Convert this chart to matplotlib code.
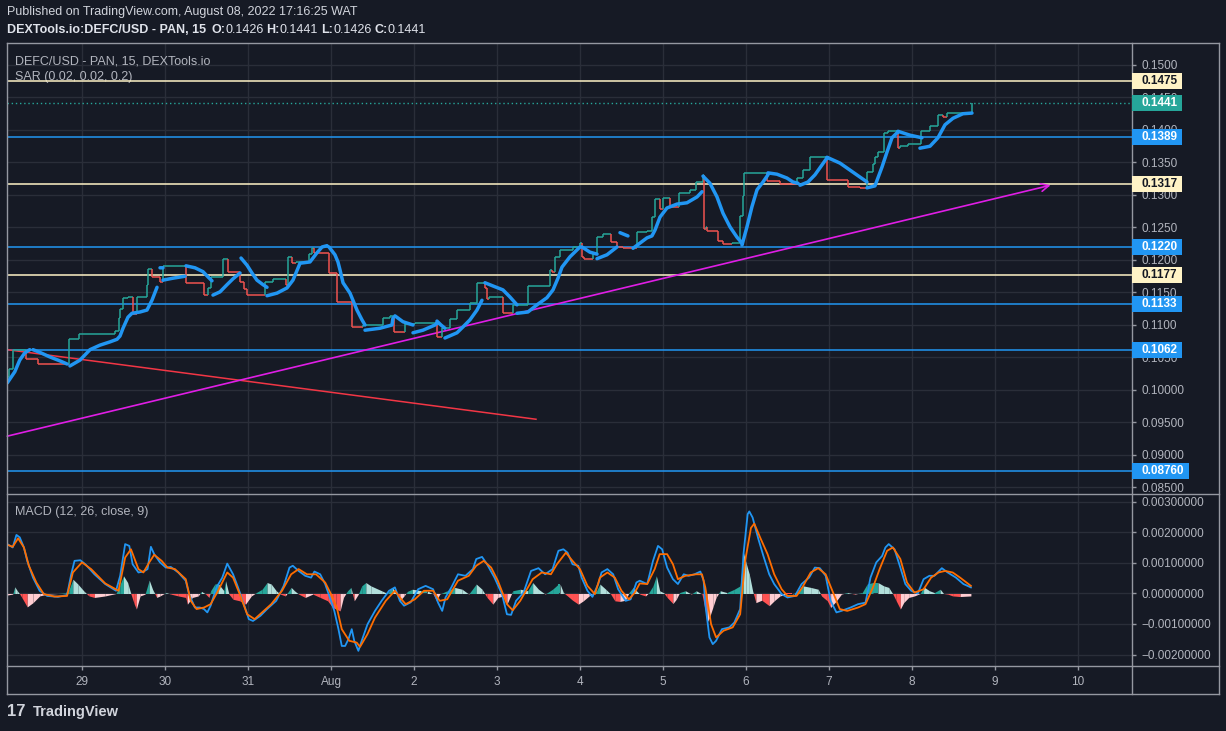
import matplotlib
matplotlib.use("Agg")
import matplotlib.pyplot as plt
from matplotlib.collections import LineCollection
from matplotlib.lines import Line2D
from matplotlib.patches import Rectangle
import numpy as np

plt.rcParams['font.family'] = ['Liberation Sans', 'DejaVu Sans']

# ---------------- data (time = days since Jul 29 00:00) ----------------
day_ticks = list(range(13))
day_labels = ['29', '30', '31', 'Aug', '2', '3', '4', '5', '6', '7', '8', '9', '10']

price_ticks = [0.085, 0.090, 0.095, 0.100, 0.105, 0.110, 0.115, 0.120, 0.125,
               0.130, 0.135, 0.140, 0.145, 0.150]
price_tick_labels = ['0.08500', '0.09000', '0.09500', '0.10000', '0.1050', '0.1100',
                     '0.1150', '0.1200', '0.1250', '0.1300', '0.1350', '0.1400',
                     '0.1450', '0.1500']
macd_ticks = [-0.002, -0.001, 0.0, 0.001, 0.002, 0.003]
macd_tick_labels = ['\u22120.00200000', '\u22120.00100000', '0.00000000',
                    '0.00100000', '0.00200000', '0.00300000']

# close price, step changes
price_t = [-0.90, -0.88, -0.83, -0.67, -0.53, -0.16, -0.04, 0.40, 0.44, 0.46, 0.49, 0.55,
           0.61, 0.66, 0.78, 0.80, 0.84, 0.94, 0.98, 1.25, 1.47, 1.52, 1.55, 1.70, 1.76,
           1.90, 1.95, 1.99, 2.20, 2.30, 2.46, 2.48, 2.53, 2.58, 2.73, 2.77, 2.80, 2.98,
           3.07, 3.25, 3.39, 3.63, 3.71, 3.76, 3.89, 4.01, 4.28, 4.34, 4.43, 4.52, 4.67,
           4.76, 4.86, 4.88, 4.90, 5.07, 5.19, 5.37, 5.64, 5.66, 5.70, 5.76, 5.92, 6.00,
           6.02, 6.05, 6.16, 6.20, 6.28, 6.37, 6.45, 6.52, 6.69, 6.81, 6.87, 6.90, 6.96,
           7.00, 7.08, 7.19, 7.33, 7.40, 7.48, 7.49, 7.52, 7.53, 7.66, 7.72, 7.83, 7.93,
           7.96, 7.98, 8.25, 8.41, 8.61, 8.69, 8.77, 8.98, 9.23, 9.37, 9.46, 9.53, 9.55,
           9.59, 9.66, 9.71, 9.83, 9.86, 9.95, 10.11, 10.22, 10.31, 10.37, 10.42, 10.72]
price_v = [0.1020, 0.1032, 0.1062, 0.1048, 0.1040, 0.1078, 0.1086, 0.1090, 0.1110, 0.1125,
           0.1142, 0.1143, 0.1117, 0.1143, 0.1162, 0.1186, 0.1174, 0.1166, 0.1191, 0.1165,
           0.1146, 0.1157, 0.1174, 0.1202, 0.1182, 0.1166, 0.1155, 0.1146, 0.1166, 0.1171,
           0.1162, 0.1205, 0.1195, 0.1197, 0.1209, 0.1218, 0.1211, 0.1180, 0.1135, 0.1097,
           0.1100, 0.1111, 0.1114, 0.1089, 0.1102, 0.1103, 0.1082, 0.1095, 0.1109, 0.1123,
           0.1134, 0.1165, 0.1157, 0.1140, 0.1143, 0.1118, 0.1131, 0.1160, 0.1185, 0.1182,
           0.1205, 0.1215, 0.1220, 0.1226, 0.1205, 0.1202, 0.1211, 0.1235, 0.1240, 0.1228,
           0.1220, 0.1218, 0.1243, 0.1245, 0.1266, 0.1294, 0.1278, 0.1295, 0.1282, 0.1303,
           0.1308, 0.1320, 0.1331, 0.1248, 0.1251, 0.1245, 0.1229, 0.1225, 0.1226, 0.1268,
           0.1298, 0.1334, 0.1322, 0.1317, 0.1326, 0.1338, 0.1358, 0.1323, 0.1312, 0.1311,
           0.1335, 0.1348, 0.1358, 0.1366, 0.1395, 0.1398, 0.1372, 0.1375, 0.1378, 0.1398,
           0.1406, 0.1423, 0.1420, 0.1426, 0.1441]

nan = float('nan')
# parabolic SAR, segments separated by nan
sar_t = [-0.90, -0.81, -0.75, -0.69, -0.63, nan,
         -0.59, -0.51, -0.39, -0.27, -0.18, nan,
         -0.145, -0.024, 0.096, 0.217, 0.337, 0.422, 0.458, 0.494, 0.554, 0.602, 0.699,
         0.783, 0.843, 0.904, nan,
         0.940, 0.976, nan,
         0.976, 1.096, 1.241, nan,
         1.253, 1.361, 1.458, 1.518, 1.566, nan,
         1.578, 1.663, 1.747, 1.819, 1.904, nan,
         1.916, 1.988, 2.048, 2.108, 2.181, 2.229, nan,
         2.229, 2.349, 2.470, 2.542, 2.627, 2.747, 2.831, 2.892, 2.952, nan,
         2.976, 3.048, 3.084, 3.108, 3.145, 3.229, 3.265, 3.313, 3.373, 3.410, nan,
         3.410, 3.590, 3.735, 3.747, nan,
         3.771, 3.867, 3.988, nan,
         3.988, 4.108, 4.253, 4.277, nan,
         4.277, 4.325, 4.373, nan,
         4.373, 4.518, 4.590, 4.675, 4.759, 4.819, nan,
         4.855, 4.952, 5.072, 5.157, 5.241, nan,
         5.241, 5.373, 5.482, 5.602, 5.675, 5.735, 5.783, 5.880, 6.000, nan,
         6.024, 6.120, 6.205, nan,
         6.205, 6.325, 6.446, nan,
         6.482, 6.578, nan,
         6.639, 6.723, 6.807, 6.867, 6.904, 6.964, 7.048, 7.169, 7.289, 7.410, 7.470, nan,
         7.482, 7.566, 7.651, 7.723, 7.807, 7.892, 7.952, nan,
         7.952, 8.012, 8.072, 8.133, 8.205, 8.265, nan,
         8.265, 8.373, 8.494, 8.566, 8.627, nan,
         8.651, 8.747, 8.831, 8.976, nan,
         8.976, 9.133, 9.289, 9.458, nan,
         9.458, 9.554, 9.639, 9.699, 9.759, 9.831, nan,
         9.831, 9.976, 10.120, nan,
         10.096, 10.217, 10.313, 10.398, 10.494, 10.614, 10.723]
sar_v = [0.1011, 0.1028, 0.1046, 0.1057, 0.1062, nan,
         0.1062, 0.1058, 0.1051, 0.1045, 0.1040, nan,
         0.1037, 0.1046, 0.1062, 0.1069, 0.1074, 0.1078, 0.1083, 0.1095, 0.1112, 0.1118, 0.1120,
         0.1123, 0.1138, 0.1158, nan,
         0.1188, 0.1188, nan,
         0.1169, 0.1172, 0.1175, nan,
         0.1191, 0.1188, 0.1182, 0.1174, 0.1168, nan,
         0.1146, 0.1151, 0.1162, 0.1171, 0.1180, nan,
         0.1203, 0.1192, 0.1180, 0.1169, 0.1162, 0.1158, nan,
         0.1145, 0.1149, 0.1157, 0.1169, 0.1195, 0.1197, 0.1211, 0.1220, 0.1222, nan,
         0.1220, 0.1208, 0.1197, 0.1185, 0.1165, 0.1149, 0.1138, 0.1123, 0.1108, 0.1100, nan,
         0.1092, 0.1095, 0.1100, 0.1111, nan,
         0.1114, 0.1105, 0.1100, nan,
         0.1088, 0.1092, 0.1100, 0.1103, nan,
         0.1106, 0.1100, 0.1095, nan,
         0.1080, 0.1088, 0.1097, 0.1108, 0.1123, 0.1138, nan,
         0.1165, 0.1160, 0.1154, 0.1143, 0.1131, nan,
         0.1118, 0.1120, 0.1131, 0.1142, 0.1154, 0.1172, 0.1189, 0.1205, 0.1220, nan,
         0.1220, 0.1212, 0.1209, nan,
         0.1202, 0.1208, 0.1220, nan,
         0.1242, 0.1237, nan,
         0.1218, 0.1226, 0.1234, 0.1237, 0.1246, 0.1266, 0.1280, 0.1286, 0.1288, 0.1297, 0.1305, nan,
         0.1329, 0.1318, 0.1297, 0.1272, 0.1251, 0.1235, 0.1226, nan,
         0.1223, 0.1251, 0.1282, 0.1308, 0.1320, 0.1331, nan,
         0.1334, 0.1332, 0.1326, 0.1320, 0.1318, nan,
         0.1315, 0.1320, 0.1331, 0.1357, nan,
         0.1358, 0.1349, 0.1335, 0.1320, nan,
         0.1311, 0.1314, 0.1343, 0.1366, 0.1388, 0.1397, nan,
         0.1398, 0.1392, 0.1388, nan,
         0.1372, 0.1375, 0.1388, 0.1408, 0.1418, 0.1425, 0.1426]

# horizontal levels
cream_levels = [0.1475, 0.1317, 0.1177]
blue_levels = [0.1389, 0.1220, 0.1133, 0.1062, 0.0876]
blue_labels = ['0.1389', '0.1220', '0.1133', '0.1062', '0.08760']
cream_labels = ['0.1475', '0.1317', '0.1177']
last_price = 0.1441

# trend lines
trend_up_t = [-0.90, 11.67]
trend_up_v = [0.0929, 0.1315]
trend_dn_t = [-0.90, 5.47]
trend_dn_v = [0.1062, 0.0955]

# MACD (values in thousandths)
macd_t = [-0.90, -0.835, -0.79, -0.75, -0.70, -0.66, -0.59, -0.51, -0.42, -0.29, -0.18,
          -0.13, -0.09, -0.02, 0.04, 0.15, 0.28, 0.41, 0.46, 0.52, 0.57, 0.61, 0.68, 0.74,
          0.79, 0.83, 0.87, 0.94, 1.01, 1.07, 1.16, 1.25, 1.29, 1.36, 1.42, 1.47, 1.51,
          1.55, 1.62, 1.69, 1.75, 1.82, 1.88, 1.95, 2.01, 2.06, 2.15, 2.23, 2.34, 2.43,
          2.50, 2.54, 2.61, 2.69, 2.76, 2.80, 2.87, 2.93, 3.00, 3.04, 3.09, 3.13, 3.17,
          3.21, 3.25, 3.28, 3.33, 3.37, 3.44, 3.53, 3.61, 3.70, 3.77, 3.83, 3.88, 3.96,
          4.05, 4.14, 4.23, 4.29, 4.34, 4.38, 4.45, 4.53, 4.62, 4.71, 4.75, 4.82, 4.88,
          4.97, 5.06, 5.12, 5.17, 5.23, 5.32, 5.41, 5.50, 5.58, 5.67, 5.74,
          5.80, 5.85, 5.91, 5.98, 6.02, 6.09, 6.15, 6.22, 6.26, 6.33, 6.40, 6.46, 6.55,
          6.61, 6.68, 6.72, 6.81, 6.88, 6.94, 6.99, 7.05, 7.12, 7.18, 7.25, 7.31, 7.38,
          7.45, 7.49, 7.51, 7.56, 7.60, 7.64, 7.71, 7.80, 7.86, 7.93, 7.97, 8.02, 8.04,
          8.08, 8.15, 8.21, 8.28, 8.34, 8.43, 8.50, 8.59, 8.67, 8.76, 8.83, 8.89, 8.96,
          9.02, 9.09, 9.15, 9.26, 9.35, 9.44, 9.50, 9.57, 9.64, 9.68, 9.72, 9.79, 9.86,
          9.92, 9.99, 10.07, 10.14, 10.21, 10.27, 10.36, 10.43, 10.53, 10.62, 10.71]
macd_v = [1.62, 1.51, 1.92, 1.84, 1.51, 1.07, 0.52, 0.09, -0.08, -0.11, -0.05,
          0.63, 1.07, 1.09, 0.96, 0.63, 0.31, 0.09, 0.58, 1.62, 1.56, 0.96, 0.69, 0.72,
          0.80, 1.53, 1.29, 1.02, 0.85, 0.87, 0.69, 0.42, -0.02, -0.46, -0.46, -0.51, -0.62,
          -0.40, 0.20, 0.52, 0.98, 0.63, 0.20, -0.35, -0.84, -0.90, -0.73, -0.51, -0.24, 0.25,
          0.85, 0.91, 0.74, 0.58, 0.52, 0.72, 0.63, 0.31, -0.24, -0.57, -1.17, -1.72, -1.72,
          -1.50, -1.17, -1.55, -1.88, -1.55, -1.01, -0.57, -0.24, 0.09, 0.20, -0.24, -0.40, -0.29,
          0.14, 0.25, 0.14, -0.30, -0.57, -0.13, 0.20, 0.63, 0.58, 0.80, 1.13, 1.20, 0.96,
          0.52, -0.02, -0.68, -0.70, -0.24, 0.03, 0.74, 0.83, 0.63, 0.80, 1.40,
          1.45, 1.34, 0.96, 0.91, 0.52, 0.09, -0.11, 0.31, 0.69, 0.80, 0.63, 0.14, -0.24,
          -0.19, 0.36, 0.42, 0.31, 1.07, 1.56, 1.45, 0.85, 0.47, 0.31, 0.63, 0.58, 0.63,
          0.72, 0.42, -0.35, -1.44, -1.66, -1.55, -1.17, -1.11, -0.95, -0.51, 1.29, 2.60, 2.69,
          2.49, 1.78, 1.23, 0.63, 0.31, -0.02, -0.13, -0.08, 0.31, 0.52, 0.85, 0.83, 0.58,
          -0.24, -0.62, -0.57, -0.46, -0.35, -0.30, 0.52, 1.02, 1.23, 1.51, 1.62, 1.45, 0.85,
          0.31, 0.09, 0.00, 0.47, 0.58, 0.58, 0.83, 0.69, 0.52, 0.31, 0.20]

signal_t = [-0.90, -0.835, -0.77, -0.70, -0.64, -0.55, -0.46, -0.33, -0.18, -0.11, 0.00,
            0.11, 0.28, 0.44, 0.52, 0.59, 0.68, 0.74, 0.81, 0.87, 0.96, 1.03, 1.12, 1.25,
            1.31, 1.38, 1.47, 1.55, 1.64, 1.75, 1.82, 1.90, 1.99, 2.08, 2.17, 2.28, 2.41,
            2.52, 2.61, 2.71, 2.82, 2.93, 3.00, 3.07, 3.13, 3.22, 3.31, 3.35, 3.44, 3.53,
            3.66, 3.77, 3.83, 3.90, 4.01, 4.12, 4.23, 4.31, 4.40, 4.53, 4.66, 4.75, 4.84,
            4.93, 5.01, 5.12, 5.19, 5.28, 5.43, 5.54, 5.65, 5.72,
            5.83, 5.91, 6.00, 6.09, 6.18, 6.24, 6.33, 6.42, 6.50, 6.59, 6.66, 6.72, 6.81,
            6.90, 6.96, 7.05, 7.12, 7.18, 7.27, 7.40, 7.47, 7.51, 7.58, 7.64, 7.73, 7.84,
            7.93, 7.99, 8.06, 8.10, 8.17, 8.26, 8.34, 8.43, 8.50, 8.61, 8.69, 8.78, 8.87,
            8.96, 9.05, 9.13, 9.22, 9.35, 9.44, 9.53, 9.61, 9.70, 9.77, 9.86, 9.94, 10.03,
            10.14, 10.23, 10.32, 10.40, 10.49, 10.58, 10.71]
signal_v = [1.60, 1.53, 1.81, 1.51, 0.91, 0.36, -0.02, -0.10, -0.08, 0.69, 1.02,
            0.80, 0.33, 0.09, 1.18, 1.45, 0.80, 0.69, 1.02, 1.27, 1.07, 0.85, 0.80, 0.47,
            -0.24, -0.51, -0.46, -0.35, 0.09, 0.69, 0.52, -0.02, -0.68, -0.84, -0.62, -0.35, 0.09,
            0.63, 0.80, 0.63, 0.63, 0.36, -0.02, -0.46, -1.17, -1.55, -1.61, -1.75, -1.33, -0.79,
            -0.24, 0.09, -0.13, -0.35, -0.19, 0.09, 0.09, -0.24, -0.19, 0.42, 0.58, 0.91, 1.07,
            0.85, 0.42, -0.35, -0.55, -0.24, 0.47, 0.69, 0.63, 0.95,
            1.34, 1.07, 0.80, 0.25, -0.02, 0.52, 0.69, 0.52, 0.09, -0.19, 0.03, 0.33, 0.31,
            0.80, 1.29, 1.29, 0.96, 0.47, 0.58, 0.63, 0.63, 0.20, -1.01, -1.44, -1.22, -1.11,
            -0.68, 1.07, 2.15, 2.29, 1.84, 1.29, 0.63, 0.14, -0.08, -0.08, 0.25, 0.69, 0.83,
            0.63, 0.03, -0.51, -0.57, -0.46, -0.35, 0.20, 0.80, 1.40, 1.51, 1.13, 0.36, 0.03,
            0.14, 0.52, 0.69, 0.74, 0.69, 0.52, 0.25]

hist_t = [-0.90, -0.835, -0.81, -0.78, -0.75, -0.725, -0.66, -0.59, -0.51, -0.42, -0.29,
          -0.20, -0.155, -0.11, -0.05, 0.02, 0.06, 0.085, 0.15, 0.28, 0.41, 0.46, 0.50,
          0.55, 0.59, 0.63, 0.655, 0.70, 0.76, 0.81, 0.85, 0.90, 0.94, 1.01, 1.07, 1.16,
          1.25, 1.27, 1.33, 1.40, 1.44, 1.49, 1.53, 1.55, 1.60, 1.64, 1.71, 1.73, 1.77,
          1.82, 1.90, 1.97, 2.04, 2.10, 2.17, 2.23, 2.28, 2.34, 2.39, 2.45, 2.52, 2.56,
          2.61, 2.69, 2.78, 2.87, 2.96, 3.02, 3.06, 3.11, 3.15, 3.20, 3.24, 3.28, 3.33,
          3.37, 3.42, 3.48, 3.61, 3.68, 3.74, 3.79, 3.83, 3.88, 3.92, 3.98, 4.09, 4.16,
          4.23, 4.27, 4.31, 4.40, 4.49, 4.58, 4.66, 4.75, 4.82, 4.88, 4.95, 5.01, 5.08,
          5.12, 5.19, 5.28, 5.37, 5.43, 5.50, 5.58, 5.67, 5.74,
          5.76, 5.80, 5.85, 5.91, 5.98, 6.04, 6.11, 6.20, 6.24, 6.31, 6.37, 6.42, 6.48,
          6.55, 6.59, 6.64, 6.68, 6.72, 6.79, 6.83, 6.88, 6.92, 6.96, 7.01, 7.05, 7.12,
          7.16, 7.20, 7.27, 7.34, 7.40, 7.47, 7.51, 7.53, 7.56, 7.60, 7.64, 7.69, 7.77,
          7.86, 7.93, 7.97, 8.00, 8.04, 8.08, 8.12, 8.19, 8.28, 8.34, 8.41, 8.48, 8.56,
          8.63, 8.69, 8.78, 8.87, 8.91, 8.98, 9.02, 9.09, 9.15, 9.22, 9.31, 9.40, 9.46,
          9.53, 9.59, 9.66, 9.72, 9.77, 9.81, 9.86, 9.90, 9.96, 10.03, 10.10, 10.14, 10.21,
          10.27, 10.34, 10.38, 10.43, 10.49, 10.58, 10.71]
hist_v = [-0.05, -0.02, 0.22, 0.09, -0.02, -0.13, -0.44, -0.30, -0.08, -0.02, 0.00,
          0.02, 0.14, 0.47, 0.31, 0.09, -0.02, -0.08, -0.13, -0.08, 0.00, 0.31, 0.58,
          0.36, -0.02, -0.35, -0.51, -0.08, -0.02, 0.44, 0.14, -0.13, -0.08, 0.03, -0.02, -0.08,
          -0.13, -0.35, -0.13, -0.08, 0.07, -0.02, -0.13, 0.09, 0.31, 0.33, 0.09, 0.42, -0.02,
          -0.19, -0.24, -0.35, -0.08, 0.03, 0.14, 0.36, 0.31, 0.09, -0.02, -0.08, 0.20, 0.09,
          -0.02, -0.13, -0.02, -0.13, -0.24, -0.46, -0.51, -0.57, -0.13, 0.09, 0.20, -0.24, -0.02,
          0.25, 0.36, 0.25, 0.09, 0.00, 0.20, -0.02, -0.24, -0.08, 0.07, 0.14, 0.09, 0.09,
          -0.02, -0.24, -0.02, 0.09, 0.20, 0.14, -0.02, 0.31, 0.14, -0.13, -0.35, -0.13, -0.08,
          -0.35, 0.09, 0.14, 0.09, 0.36, 0.14, -0.02, 0.14, 0.31,
          0.31, 0.03, -0.08, -0.22, -0.35, -0.24, -0.08, 0.09, 0.31, 0.14, -0.02, -0.24, -0.26,
          -0.22, 0.03, 0.20, 0.09, -0.02, -0.08, 0.03, 0.25, 0.58, 0.09, 0.02, -0.13, -0.33,
          -0.19, 0.03, 0.09, -0.02, 0.09, -0.02, -0.57, -0.95, -0.79, -0.46, -0.13, 0.09, 0.03,
          0.14, 0.25, 1.34, 1.02, 0.63, 0.09, -0.30, -0.22, -0.40, -0.24, -0.08, -0.02, -0.02,
          0.09, 0.25, 0.20, 0.14, -0.08, -0.24, -0.46, -0.24, -0.02, 0.03, -0.02, 0.03, 0.31,
          0.36, 0.36, 0.25, 0.20, -0.02, -0.24, -0.51, -0.30, -0.13, -0.08, 0.00, 0.22, 0.09,
          0.03, 0.14, 0.00, -0.02, -0.08, -0.10, -0.08]

# ---------------- style ----------------
BG = '#161a25'
GRID = '#2a2e39'
TXT = '#b2b5be'
FRAME = '#9598a1'
UP = '#26a69a'
DOWN = '#ef5350'
BLUE = '#2196f3'
CREAM = '#fff3c6'
MAG = '#e01ee6'
ORANGE = '#ff6d00'

W, H = 1226, 731
fig = plt.figure(figsize=(W / 100, H / 100), dpi=100, facecolor=BG)


def fx(px):
    return px / W


def fy(py):
    return 1 - py / H


ax = fig.add_axes([fx(7), fy(494), fx(1132) - fx(7), fy(43) - fy(494)])
axm = fig.add_axes([fx(7), fy(666), fx(1132) - fx(7), fy(494) - fy(666)], sharex=ax)

for a in (ax, axm):
    a.set_facecolor(BG)
    for s in a.spines.values():
        s.set_visible(False)
    a.grid(True, color=GRID, lw=1)
    a.set_axisbelow(True)
    a.yaxis.tick_right()
    a.tick_params(axis='y', which='both', left=False, right=True, labelleft=False,
                  labelright=True, length=3, width=1, color=FRAME, labelcolor=TXT,
                  labelsize=8.5, pad=3.5)

ax.set_xlim(-0.9036, 12.651)
ax.set_ylim(0.0840, 0.15338)
axm.set_ylim(-0.002377, 0.003262)

ax.set_xticks(day_ticks)
ax.set_yticks(price_ticks)
ax.set_yticklabels(price_tick_labels)
ax.tick_params(axis='x', bottom=False, labelbottom=False)
axm.set_yticks(macd_ticks)
axm.set_yticklabels(macd_tick_labels)
axm.set_xticks(day_ticks)
axm.set_xticklabels(day_labels)
axm.tick_params(axis='x', direction='out', length=3, width=1, color=FRAME,
                labelcolor=TXT, labelsize=8.5, pad=4)

# ---- price step line ----
segs, cols = [], []
prev_col = UP
for i in range(1, len(price_t)):
    t0, t1 = price_t[i - 1], price_t[i]
    v0, v1 = price_v[i - 1], price_v[i]
    segs.append([(t0, v0), (t1, v0)])
    cols.append(prev_col)
    c = UP if v1 >= v0 else DOWN
    segs.append([(t1, v0), (t1, v1)])
    cols.append(c)
    prev_col = c
ax.add_collection(LineCollection(segs, colors=cols, linewidths=1.1, zorder=4))

# ---- levels ----
for lv in cream_levels:
    ax.axhline(lv, color=CREAM, lw=1.1, zorder=3)
for lv in blue_levels:
    ax.axhline(lv, color=BLUE, lw=1.1, zorder=3)
ax.axhline(last_price, color=UP, lw=1, ls=(0, (1, 2)), zorder=3)

# ---- trend lines ----
ax.plot(trend_dn_t, trend_dn_v, color='#f23645', lw=1.1, zorder=3)
ax.annotate('', xy=(trend_up_t[1], trend_up_v[1]), xytext=(trend_up_t[0], trend_up_v[0]),
            arrowprops=dict(arrowstyle='->', color=MAG, lw=1.2, mutation_scale=14,
                            shrinkA=0, shrinkB=0), zorder=3)

# ---- SAR ----
ax.plot(sar_t, sar_v, color=BLUE, lw=2.5, solid_capstyle='round', zorder=5)

# ---- MACD ----
k = 0.001
for i in range(len(hist_t) - 1):
    t0, t1 = hist_t[i], hist_t[i + 1]
    v0, v1 = hist_v[i], hist_v[i + 1]
    if v0 * v1 < 0:
        tz = t0 + (t1 - t0) * v0 / (v0 - v1)
        pieces = [(t0, tz, v0, 0.0, v0), (tz, t1, 0.0, v1, v1)]
    else:
        pieces = [(t0, t1, v0, v1, v0 + v1)]
    for a0, a1, b0, b1, sgn in pieces:
        if sgn >= 0:
            c = UP if v1 >= v0 else '#b2dfdb'
        else:
            c = '#ff5252' if v1 <= v0 else '#ffcdd2'
        axm.fill_between([a0, a1], [b0 * k, b1 * k], 0, color=c, lw=0, zorder=2)

axm.plot(macd_t, np.array(macd_v) * k, color=BLUE, lw=1.3, zorder=4)
axm.plot(signal_t, np.array(signal_v) * k, color=ORANGE, lw=1.3, zorder=4)


# ---- frame lines ----
def fline(x0, y0, x1, y1):
    fig.add_artist(Line2D([fx(x0), fx(x1)], [fy(y0), fy(y1)], transform=fig.transFigure,
                          color=FRAME, lw=1))


fline(7, 43, 1219, 43)
fline(7, 694, 1219, 694)
fline(7, 43, 7, 694)
fline(1219, 43, 1219, 694)
fline(7, 494, 1219, 494)
fline(7, 666, 1219, 666)
fline(1132, 43, 1132, 694)


# ---- price labels on the scale ----
def level_box(level, label, face, tcol, right_px=1182):
    ypix = ax.transData.transform((0, level))[1]
    yf = ypix / fig.bbox.height
    hh = 8 / H
    fig.add_artist(Rectangle((fx(1132), yf - hh), fx(right_px) - fx(1132), 2 * hh,
                             transform=fig.transFigure, facecolor=face, edgecolor='none',
                             zorder=5))
    fig.text(fx(1141), yf, label, color=tcol, fontsize=8.5, fontweight='bold',
             va='center', ha='left', zorder=6)


for lv, lb in zip(cream_levels, cream_labels):
    level_box(lv, lb, CREAM, '#131722')
for lv, lb in zip(blue_levels, blue_labels):
    level_box(lv, lb, BLUE, 'white', 1189 if lb == '0.08760' else 1182)
level_box(last_price, '0.1441', UP, 'white')

# ---- pane texts ----
ax.text(fx(15), fy(61), 'DEFC/USD - PAN, 15, DEXTools.io', transform=fig.transFigure,
        color=TXT, fontsize=9, va='center', ha='left', zorder=1)
ax.text(fx(15), fy(77), 'SAR (0.02, 0.02, 0.2)', transform=fig.transFigure,
        color=TXT, fontsize=9, va='center', ha='left', zorder=1)
axm.text(fx(15), fy(512), 'MACD (12, 26, close, 9)', transform=fig.transFigure,
         color=TXT, fontsize=9, va='center', ha='left', zorder=1)

# ---- header ----
fig.text(fx(7), fy(12), 'Published on TradingView.com, August 08, 2022 17:16:25 WAT',
         color='#d1d4dc', fontsize=9, va='center', ha='left')

renderer = fig.canvas.get_renderer()
parts = [('DEXTools.io:DEFC/USD - PAN, 15', 'bold', 5), ('O:', 'bold', 0), ('0.1426', 'normal', 3),
         ('H:', 'bold', 0), ('0.1441', 'normal', 3), ('L:', 'bold', 0), ('0.1426', 'normal', 3),
         ('C:', 'bold', 0), ('0.1441', 'normal', 0)]
xpos = 7
for s, wgt, gap in parts:
    t = fig.text(fx(xpos), fy(30), s, color='#e0e3eb', fontsize=9, fontweight=wgt,
                 va='center', ha='left')
    bb = t.get_window_extent(renderer=renderer)
    xpos = bb.x1 + gap

# ---- footer logo ----
fig.text(fx(7), fy(712), '17', color='#d1d4dc', fontsize=12, fontweight='bold',
         va='center', ha='left')
fig.text(fx(33), fy(712), 'TradingView', color='#d1d4dc', fontsize=10.5, fontweight='bold',
         va='center', ha='left')

fig.savefig('out.png', dpi=100, facecolor=BG)
